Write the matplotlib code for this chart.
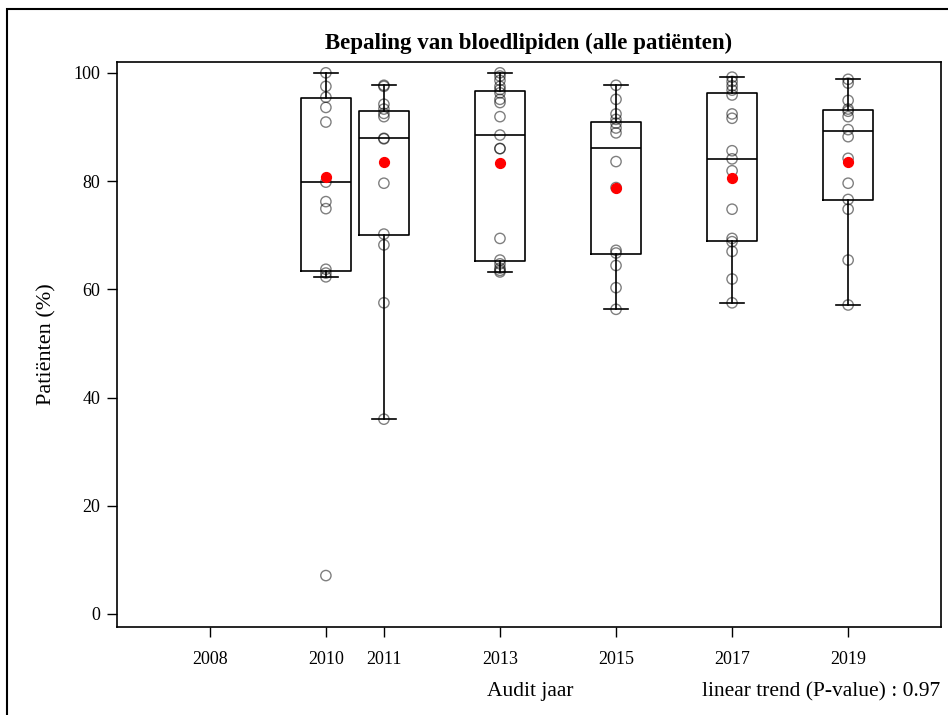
import matplotlib
matplotlib.use("Agg")
import matplotlib.pyplot as plt
from matplotlib.patches import Rectangle

plt.rcParams["font.family"] = ["Liberation Serif", "DejaVu Serif"]

# audit years and the per-centre percentages
years = [2010, 2011, 2013, 2015, 2017, 2019]
tick_years = [2008, 2010, 2011, 2013, 2015, 2017, 2019]

pts_2010 = [100.0, 97.5, 95.5, 93.6, 90.9, 79.8, 76.2, 74.9, 63.7, 63.0, 62.3, 7.1]
pts_2011 = [97.7, 97.5, 94.2, 93.3, 92.5, 91.9, 87.9, 87.8, 79.6, 70.2, 68.2, 57.5, 36.0]
pts_2013 = [100.0, 99.4, 98.6, 97.5, 96.9, 96.3, 95.1, 94.5, 91.9, 88.5, 86.0, 86.0,
            69.4, 65.4, 64.7, 63.9, 63.5, 63.2]
pts_2015 = [97.7, 95.1, 92.4, 91.4, 90.7, 89.8, 88.9, 83.6, 78.8, 67.2, 66.7, 64.4, 60.3, 56.3]
pts_2017 = [99.2, 98.4, 97.6, 96.8, 95.9, 92.4, 91.6, 85.6, 84.1, 81.9, 74.8, 69.4,
            68.8, 67.0, 61.9, 57.5]
pts_2019 = [98.8, 98.1, 94.9, 93.3, 92.9, 91.9, 89.5, 88.2, 84.2, 79.6, 76.6, 74.8, 65.4, 57.1]
points = [pts_2010, pts_2011, pts_2013, pts_2015, pts_2017, pts_2019]

# box statistics as drawn (pooled mean shown in red)
q1 = [63.4, 70.1, 65.2, 66.5, 69.0, 76.5]
medians = [79.9, 87.9, 88.5, 86.1, 84.0, 89.3]
q3 = [95.3, 93.0, 96.6, 91.0, 96.2, 93.2]
whisk_lo = [62.3, 36.0, 63.2, 56.3, 57.5, 57.1]
whisk_hi = [100.0, 97.7, 100.0, 97.7, 99.2, 98.8]
means = [80.8, 83.6, 83.4, 78.7, 80.5, 83.5]

fig = plt.figure(figsize=(9.48, 7.15), dpi=100)
ax = fig.add_axes([0.1234, 0.1231, 0.8692, 0.7902])

stats = []
for i in range(len(years)):
    stats.append({"q1": q1[i], "med": medians[i], "q3": q3[i],
                  "whislo": whisk_lo[i], "whishi": whisk_hi[i], "fliers": []})

lw = 1.2
ax.bxp(stats, positions=years, widths=0.85, showfliers=False, manage_ticks=False,
       boxprops=dict(color="black", linewidth=lw),
       medianprops=dict(color="black", linewidth=lw),
       whiskerprops=dict(color="black", linewidth=lw),
       capprops=dict(color="black", linewidth=lw),
       capwidths=0.42)

for yr, vals in zip(years, points):
    ax.scatter([yr] * len(vals), vals, s=55, facecolors="none",
               edgecolors="black", linewidths=1.0, alpha=0.5, zorder=3)

ax.scatter(years, means, s=50, color="red", zorder=4)

ax.set_xlim(2006.4, 2020.6)
ax.set_ylim(-2.4, 102.0)
ax.set_xticks(tick_years)
ax.set_xticklabels([str(y) for y in tick_years])
ax.set_yticks([0, 20, 40, 60, 80, 100])
ax.tick_params(direction="out", length=7, width=1, labelsize=13, pad=5)
ax.tick_params(axis="x", pad=10)
for s in ax.spines.values():
    s.set_linewidth(1.2)

ax.set_title("Bepaling van bloedlipiden (alle patiënten)", fontsize=16.5,
             fontweight="bold", pad=9)
ax.set_ylabel("Patiënten (%)", fontsize=16, labelpad=12)
fig.text(0.559, 0.033, "Audit jaar", fontsize=15.5, ha="center", va="center")
fig.text(0.992, 0.033, "linear trend (P-value) : 0.97", fontsize=15.5,
         ha="right", va="center")

# outer frame around the graph
fig.add_artist(Rectangle((7 / 948, -0.5), 2.0, 0.5 + (1 - 9 / 715),
                         transform=fig.transFigure, fill=False,
                         edgecolor="black", linewidth=1.5))

fig.savefig("out.png", dpi=100)
